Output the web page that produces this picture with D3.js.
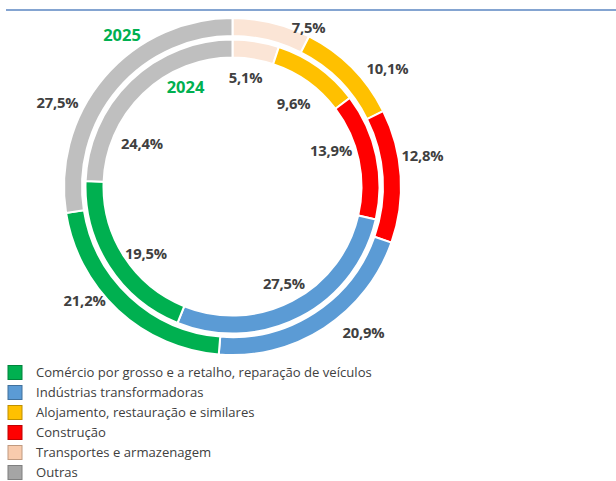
<!DOCTYPE html>
<html><head><meta charset="utf-8">
<script src="https://cdn.jsdelivr.net/npm/d3@7"></script>
<style>
html,body{margin:0;padding:0;background:#fff;}
svg{display:block;}
</style></head>
<body>
<svg id="chart" width="616" height="481"></svg>
<script>
// ---- data ----
const categories = ["Transportes e armazenagem","Alojamento, restauração e similares","Construção","Indústrias transformadoras","Comércio por grosso e a retalho, reparação de veículos","Outras"];
const values2025 = [7.5, 10.1, 12.8, 20.9, 21.2, 27.5];
const values2024 = [5.1, 9.6, 13.9, 27.5, 19.5, 24.4];
const years = ["2025", "2024"];
const legendOrder = ["Comércio por grosso e a retalho, reparação de veículos","Indústrias transformadoras","Alojamento, restauração e similares","Construção","Transportes e armazenagem","Outras"];

// ---- styles / layout ----
const ringColors = {
  "Transportes e armazenagem": "#fbe5d6",
  "Alojamento, restauração e similares": "#ffc000",
  "Construção": "#ff0000",
  "Indústrias transformadoras": "#5b9bd5",
  "Comércio por grosso e a retalho, reparação de veículos": "#00b050",
  "Outras": "#bfbfbf"
};
const legendFill = Object.assign({}, ringColors, {"Transportes e armazenagem":"#f8cbad","Outras":"#a5a5a5"});
const legendStroke = {
  "Transportes e armazenagem": "#c09a80",
  "Alojamento, restauração e similares": "#bf9000",
  "Construção": "#c00000",
  "Indústrias transformadoras": "#41719c",
  "Comércio por grosso e a retalho, reparação de veículos": "#00843c",
  "Outras": "#7f7f7f"
};
// label nudges from segment centroid (layout only)
const outerNudge = [[38.8,-4],[41.9,-5.2],[30.8,-20.6],[44.3,12],[-39.5,-2.6],[-53.7,19.5]];
const innerNudge = [[-9,27.1],[-19.4,29.1],[-36.4,-7.3],[-12.3,-25.5],[29.3,-7.6],[5.2,56.8]];

const cx = 232.5, cy = 186.6;
const svg = d3.select("#chart");

// top rule
svg.append("line").attr("x1",6).attr("x2",616).attr("y1",10).attr("y2",10)
  .attr("stroke","#5b86c2").attr("stroke-width",1.6);

const g = svg.append("g").attr("transform",`translate(${cx},${cy})`);
const pie = d3.pie().sort(null).value(d=>d.v);

const rings = [
  {vals: values2025, inner: 150.5, outer: 168.5, nudge: outerNudge},
  {vals: values2024, inner: 129, outer: 147, nudge: innerNudge}
];
const fmt = v => d3.format(".1f")(v).replace(".", ",") + "%";

rings.forEach(ring => {
  const data = pie(categories.map((c,i)=>({c, v: ring.vals[i]})));
  const arc = d3.arc().innerRadius(ring.inner).outerRadius(ring.outer);
  g.append("g").selectAll("path").data(data).join("path")
    .attr("d", arc).attr("fill", d=>ringColors[d.data.c])
    .attr("stroke","#fff").attr("stroke-width",2).attr("stroke-linejoin","miter");
  g.append("g").selectAll("text").data(data).join("text")
    .attr("x",(d,i)=>arc.centroid(d)[0]+ring.nudge[i][0])
    .attr("y",(d,i)=>arc.centroid(d)[1]+ring.nudge[i][1])
    .attr("dy","0.36em").attr("text-anchor","middle")
    .attr("font-family","'Open Sans', sans-serif").attr("font-weight","bold")
    .attr("font-size",14.8).attr("letter-spacing",-0.2).attr("fill","#404040")
    .text(d=>fmt(d.data.v));
});

// year labels
const yearPos = [[-110.5,-152],[-47,-100]];
g.selectAll(".yr").data(years).join("text")
  .attr("x",(d,i)=>yearPos[i][0]).attr("y",(d,i)=>yearPos[i][1])
  .attr("dy","0.36em").attr("text-anchor","middle")
  .attr("font-family","'Open Sans', sans-serif").attr("font-weight","bold")
  .attr("font-size",16.5).attr("fill","#00b050").text(d=>d);

// legend
const ly = d3.scaleBand().domain(legendOrder).range([362.5, 482.5]);
const lg = svg.append("g");
const items = lg.selectAll("g").data(legendOrder).join("g")
  .attr("transform",d=>`translate(0,${ly(d)+ly.bandwidth()/2})`);
items.append("rect").attr("x",8).attr("y",-7).attr("width",14).attr("height",14)
  .attr("fill",d=>legendFill[d]).attr("stroke",d=>legendStroke[d]).attr("stroke-width",1);
items.append("text").attr("x",36).attr("dy","0.35em")
  .attr("font-family","'Open Sans', sans-serif").attr("font-size",13.1)
  .attr("fill","#404040").text(d=>d);
</script>
</body></html>
